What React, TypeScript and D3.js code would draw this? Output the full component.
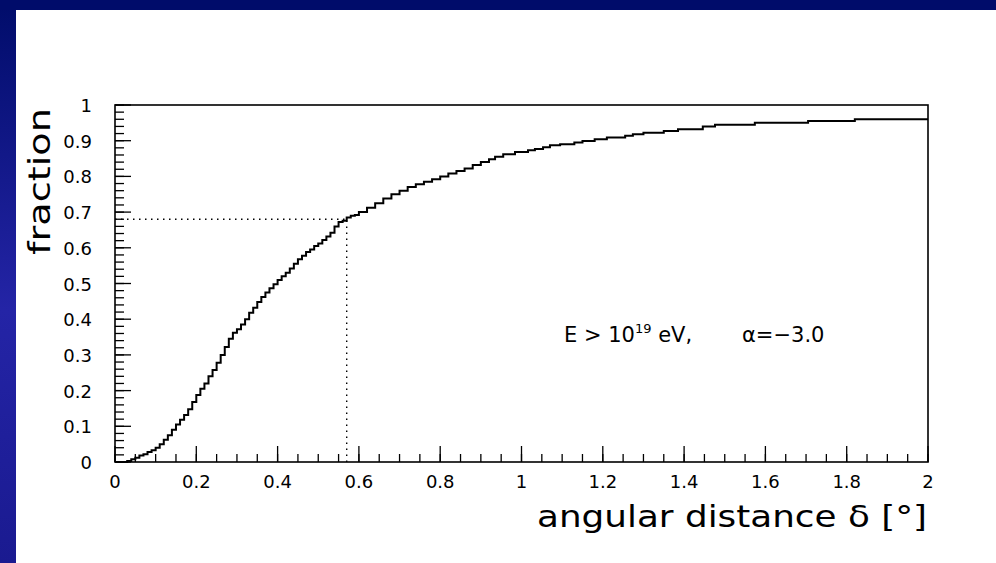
import React from "react";
import * as d3 from "d3";

const distX = [0, 0.03, 0.04, 0.05, 0.06, 0.07, 0.08, 0.09, 0.1, 0.11, 0.12, 0.13, 0.14, 0.15, 0.16, 0.17, 0.18, 0.19, 0.2, 0.21, 0.22, 0.23, 0.24, 0.25, 0.26, 0.27, 0.28, 0.29, 0.3, 0.31, 0.32, 0.33, 0.34, 0.35, 0.36, 0.37, 0.38, 0.39, 0.4, 0.41, 0.42, 0.43, 0.44, 0.45, 0.46, 0.47, 0.48, 0.49, 0.5, 0.51, 0.52, 0.53, 0.54, 0.55, 0.56, 0.57, 0.58, 0.59, 0.6, 0.62, 0.64, 0.66, 0.68, 0.7, 0.72, 0.74, 0.76, 0.78, 0.8, 0.82, 0.84, 0.86, 0.88, 0.9, 0.92, 0.935, 0.955, 0.984, 1.016, 1.033, 1.053, 1.07, 1.095, 1.13, 1.15, 1.18, 1.21, 1.255, 1.274, 1.3, 1.35, 1.385, 1.446, 1.476, 1.574, 1.705, 1.82, 2.0];
const fracY = [0, 0.003, 0.008, 0.012, 0.018, 0.022, 0.028, 0.033, 0.04, 0.05, 0.062, 0.075, 0.09, 0.105, 0.118, 0.132, 0.148, 0.168, 0.188, 0.205, 0.22, 0.24, 0.258, 0.278, 0.3, 0.322, 0.345, 0.362, 0.372, 0.385, 0.4, 0.418, 0.432, 0.448, 0.462, 0.475, 0.487, 0.498, 0.51, 0.52, 0.53, 0.542, 0.555, 0.568, 0.578, 0.588, 0.595, 0.605, 0.612, 0.622, 0.632, 0.642, 0.66, 0.672, 0.676, 0.685, 0.69, 0.692, 0.7, 0.712, 0.725, 0.738, 0.75, 0.76, 0.77, 0.778, 0.785, 0.792, 0.8, 0.808, 0.815, 0.822, 0.832, 0.84, 0.848, 0.855, 0.862, 0.868, 0.873, 0.877, 0.882, 0.887, 0.89, 0.895, 0.899, 0.904, 0.909, 0.914, 0.918, 0.922, 0.927, 0.932, 0.94, 0.945, 0.95, 0.955, 0.96, 0.96];

const xMajorTicks = [0, 0.2, 0.4, 0.6, 0.8, 1, 1.2, 1.4, 1.6, 1.8, 2];
const xTickLabels = ["0", "0.2", "0.4", "0.6", "0.8", "1", "1.2", "1.4", "1.6", "1.8", "2"];
const yMajorTicks = [0, 0.1, 0.2, 0.3, 0.4, 0.5, 0.6, 0.7, 0.8, 0.9, 1];
const yTickLabels = ["0", "0.1", "0.2", "0.3", "0.4", "0.5", "0.6", "0.7", "0.8", "0.9", "1"];
const markX = [0.57];
const markY = [0.68];

const W = 996;
const H = 563;
const L = 115, R = 928, T = 105, B = 462;

export default function App() {
  const x = d3.scaleLinear().domain([0, 2]).range([L, R]);
  const y = d3.scaleLinear().domain([0, 1]).range([B, T]);
  const pts: [number, number][] = distX.map((d, i) => [d, fracY[i]]);
  const line = d3
    .line<[number, number]>()
    .x((d) => x(d[0]))
    .y((d) => y(d[1]))
    .curve(d3.curveStepAfter);

  const xMinor = d3.range(0, 2.0001, 0.05);
  const yMinor = d3.range(0, 1.0001, 0.02);
  const font = "'DejaVu Sans', sans-serif";

  return (
    <svg
      width={W}
      height={H}
      style={{ position: "absolute", left: 0, top: 0, display: "block" }}
    >
      <defs>
        <linearGradient id="side" x1="0" y1="0" x2="0" y2="1">
          <stop offset="0" stopColor="#000c6a" />
          <stop offset="0.55" stopColor="#2424a6" />
          <stop offset="1" stopColor="#1a1a90" />
        </linearGradient>
      </defs>
      <rect x={0} y={0} width={W} height={H} fill="#ffffff" />
      <rect x={0} y={0} width={16} height={H} fill="url(#side)" />
      <rect x={0} y={0} width={W} height={10} fill="#000c6a" />

      {/* minor ticks */}
      {xMinor.map((t, i) => (
        <line key={"xm" + i} x1={x(t)} x2={x(t)} y1={B} y2={B - 8} stroke="#000" strokeWidth={1.3} />
      ))}
      {xMajorTicks.map((t, i) => (
        <line key={"xM" + i} x1={x(t)} x2={x(t)} y1={B} y2={B - 16} stroke="#000" strokeWidth={1.3} />
      ))}
      {yMinor.map((t, i) => (
        <line key={"ym" + i} x1={L} x2={L + 9} y1={y(t)} y2={y(t)} stroke="#000" strokeWidth={1.3} />
      ))}
      {yMajorTicks.map((t, i) => (
        <line key={"yM" + i} x1={L} x2={L + 16} y1={y(t)} y2={y(t)} stroke="#000" strokeWidth={1.3} />
      ))}

      {/* dotted guide lines */}
      <line x1={x(0)} x2={x(markX[0])} y1={y(markY[0])} y2={y(markY[0])} stroke="#000" strokeWidth={1.4} strokeDasharray="1.5,4.5" />
      <line x1={x(markX[0])} x2={x(markX[0])} y1={y(0)} y2={y(markY[0])} stroke="#000" strokeWidth={1.4} strokeDasharray="1.5,4.5" />

      {/* curve */}
      <path d={line(pts) || ""} fill="none" stroke="#000" strokeWidth={2} />

      {/* frame */}
      <rect x={L} y={T} width={R - L} height={B - T} fill="none" stroke="#000" strokeWidth={1.6} />

      {/* tick labels */}
      {xMajorTicks.map((t, i) => (
        <text key={"xl" + i} x={x(t)} y={488} textAnchor="middle" fontFamily={font} fontSize={18} fill="#000">
          {xTickLabels[i]}
        </text>
      ))}
      {yMajorTicks.map((t, i) => (
        <text key={"yl" + i} x={92} y={y(t) + 7} textAnchor="end" fontFamily={font} fontSize={18} fill="#000">
          {yTickLabels[i]}
        </text>
      ))}

      {/* axis titles */}
      <text x={927} y={527} textAnchor="end" fontFamily={font} fontSize={30} fill="#000" textLength={390} lengthAdjust="spacingAndGlyphs">
        angular distance δ [°]
      </text>
      <text transform="translate(50,108) rotate(-90)" textAnchor="end" fontFamily={font} fontSize={30} fill="#000" textLength={147} lengthAdjust="spacingAndGlyphs">
        fraction
      </text>

      {/* annotation */}
      <text x={564} y={342} fontFamily={font} fontSize={21} fill="#000">
        E &gt; 10
        <tspan dy={-9} fontSize={13}>19</tspan>
        <tspan dy={9}> eV,</tspan>
      </text>
      <text x={742} y={342} fontFamily={font} fontSize={21} fill="#000">
        α=−3.0
      </text>
    </svg>
  );
}
